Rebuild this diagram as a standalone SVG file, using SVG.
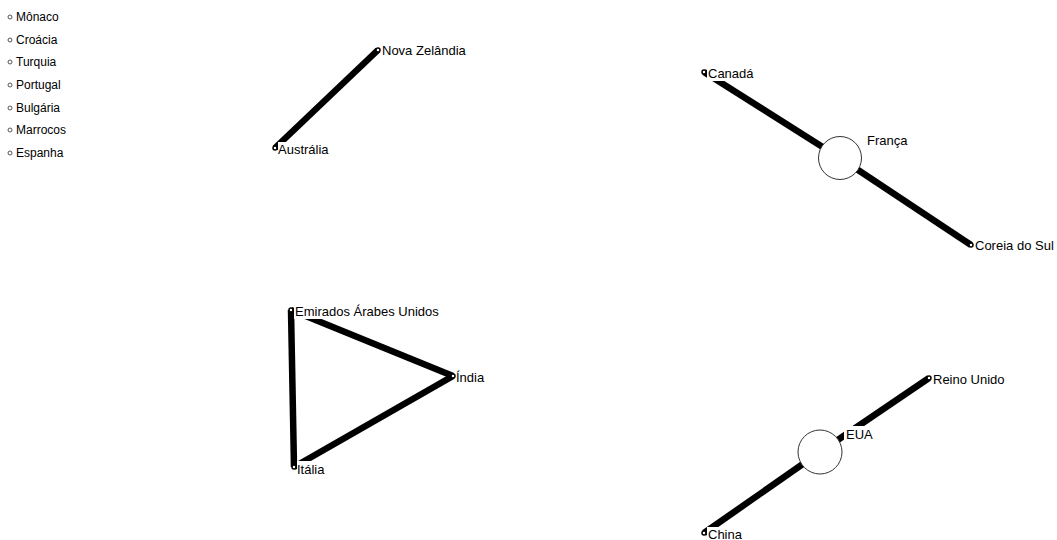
<svg xmlns="http://www.w3.org/2000/svg" width="1057" height="540" viewBox="0 0 1057 540">
<style>
text{font-family:"Liberation Sans",Arial,sans-serif;font-size:13px;fill:#000}
#legend text{font-size:12px}
.edge{stroke:#000;stroke-width:6.5;fill:none}
.pt{fill:#fff;stroke:#000;stroke-width:1.5}
.lg{fill:#fff;stroke:#555;stroke-width:1}
.big{fill:#fff;stroke:#333;stroke-width:1}
.bg{fill:#fff}
</style>
<rect width="1057" height="540" fill="#fff"/>
<g id="legend">
<circle class="lg" cx="10" cy="17" r="2"/><text x="16" y="21">Mônaco</text>
<circle class="lg" cx="10" cy="40" r="2"/><text x="16" y="44">Croácia</text>
<circle class="lg" cx="10" cy="62" r="2"/><text x="16" y="66">Turquia</text>
<circle class="lg" cx="10" cy="85" r="2"/><text x="16" y="89">Portugal</text>
<circle class="lg" cx="10" cy="108" r="2"/><text x="16" y="112">Bulgária</text>
<circle class="lg" cx="10" cy="130" r="2"/><text x="16" y="134">Marrocos</text>
<circle class="lg" cx="10" cy="153" r="2"/><text x="16" y="157">Espanha</text>
</g>
<g id="connectors">
<line class="edge" x1="275" y1="148" x2="378" y2="50"/>
<line class="edge" x1="704" y1="72" x2="840" y2="158"/>
<line class="edge" x1="840" y1="158" x2="971" y2="245"/>
<line class="edge" x1="291" y1="310" x2="453" y2="376"/>
<line class="edge" x1="453" y1="376" x2="294" y2="467"/>
<line class="edge" x1="291" y1="310" x2="294" y2="467"/>
<line class="edge" x1="929" y1="378" x2="820" y2="452"/>
<line class="edge" x1="820" y1="452" x2="704" y2="533"/>
</g>
<g id="n-australia"><circle class="pt" cx="275" cy="148" r="2"/><rect class="bg" x="278" y="142" width="56" height="15"/><text x="278" y="154">Austrália</text></g>
<g id="n-novazelandia"><circle class="pt" cx="378" cy="50" r="2"/><rect class="bg" x="381" y="43" width="86" height="15"/><text x="382" y="55">Nova Zelândia</text></g>
<g id="n-canada"><circle class="pt" cx="704" cy="72" r="2"/><rect class="bg" x="707" y="66" width="48" height="15"/><text x="708" y="78">Canadá</text></g>
<g id="n-franca"><circle class="big" cx="840" cy="158" r="21.5"/><text x="867" y="145">França</text></g>
<g id="n-coreia"><circle class="pt" cx="971" cy="245" r="2"/><rect class="bg" x="974" y="238" width="83" height="15"/><text x="975" y="250">Coreia do Sul</text></g>
<g id="n-emirados"><circle class="pt" cx="291" cy="310" r="2"/><rect class="bg" x="294" y="304" width="150" height="15"/><text x="295" y="316">Emirados Árabes Unidos</text></g>
<g id="n-india"><circle class="pt" cx="453" cy="376" r="2"/><rect class="bg" x="456" y="370" width="33" height="15"/><text x="456" y="382">Índia</text></g>
<g id="n-italia"><circle class="pt" cx="294" cy="467" r="2"/><rect class="bg" x="297" y="461" width="33" height="15"/><text x="297" y="474">Itália</text></g>
<g id="n-reinounido"><circle class="pt" cx="929" cy="378" r="2"/><rect class="bg" x="932" y="372" width="76" height="15"/><text x="933" y="384">Reino Unido</text></g>
<g id="n-eua"><circle class="big" cx="820" cy="452" r="22"/><rect class="bg" x="844" y="426" width="28" height="15"/><text x="846" y="439">EUA</text></g>
<g id="n-china"><circle class="pt" cx="704" cy="533" r="2"/><rect class="bg" x="707" y="527" width="40" height="13"/><text x="708" y="539">China</text></g>
</svg>
